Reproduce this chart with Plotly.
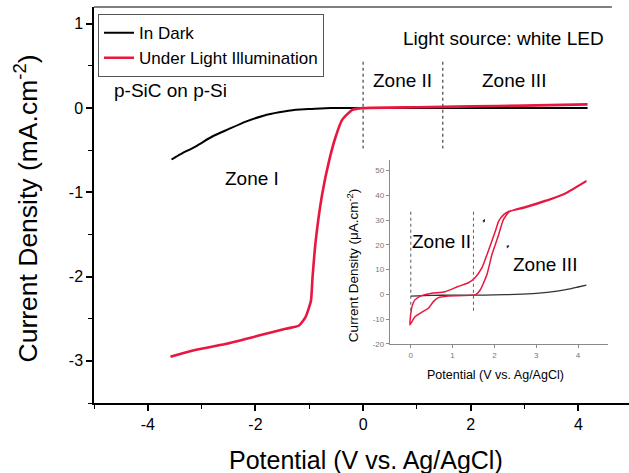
import plotly.graph_objects as go

# ---------------- main panel data ----------------
dark_x = [-3.56, -3.43, -3.10, -2.81, -2.50, -2.18, -1.85, -1.56, -1.25, -0.95, -0.60, -0.30, 0.00, 1.00, 2.00, 3.00, 4.17]
dark_y = [-0.61, -0.56, -0.45, -0.34, -0.25, -0.16, -0.09, -0.05, -0.02, -0.01, 0.00, 0.00, 0.00, 0.00, 0.00, 0.00, 0.00]

light_x = [-3.58, -3.18, -2.56, -1.94, -1.44, -1.19, -1.07, -0.97, -0.94, -0.88, -0.76, -0.63, -0.51, -0.39, -0.20, 0.00, 1.00, 2.00, 3.00, 4.17]
light_y = [-2.95, -2.88, -2.80, -2.70, -2.62, -2.58, -2.48, -2.29, -2.01, -1.57, -1.02, -0.62, -0.34, -0.14, -0.02, 0.00, 0.01, 0.02, 0.03, 0.044]

main_xticks = [-4, -2, 0, 2, 4]
main_xticktext = ["-4", "-2", "0", "2", "4"]
main_yticks = [-3, -2, -1, 0, 1]
main_yticktext = ["-3", "-2", "-1", "0", "1"]
zone_bounds = [0.0, 1.48]

# ---------------- inset data ----------------
in_dark_x = [0.0, 0.5, 1.0, 1.5, 2.0, 2.5, 3.0, 3.5, 3.8, 4.0, 4.2]
in_dark_y = [-0.7, -0.4, -0.3, -0.3, -0.2, 0.0, 0.4, 1.3, 2.2, 3.0, 3.8]

in_light_x = [4.20, 3.73, 3.33, 2.69, 2.33, 2.21, 2.10, 2.02, 1.85, 1.70, 1.53, 1.37, 1.13, 0.82, 0.50, 0.26, 0.10, 0.02, -0.02,
              0.10, 0.26, 0.42, 0.54, 0.66, 0.90, 1.54, 1.66, 1.82, 1.94, 2.10, 2.21, 2.35, 2.69, 3.33, 3.73, 4.20]
in_light_y = [45.6, 40.9, 38.2, 34.8, 33.4, 32.0, 29.5, 25.4, 17.3, 10.7, 6.6, 4.6, 3.2, 1.1, 0.5, -0.5, -2.2, -5.6, -12.3,
              -9.0, -7.2, -5.6, -2.9, -1.3, -0.6, -0.2, 1.8, 7.9, 16.0, 24.0, 30.0, 33.3, 35.2, 38.5, 41.2, 45.9]

inset_xticks = [0, 1, 2, 3, 4]
inset_yticks = [-20, -10, 0, 10, 20, 30, 40, 50]
inset_yticktext = ["-20", "-10", "0", "10", "20", "30", "40", "50"]
inset_zone_bounds = [0.0, 1.5]

FONT = "Liberation Sans, Arial, sans-serif"
RED = "#e8173f"

fig = go.Figure()
fig.add_trace(go.Scatter(x=dark_x, y=dark_y, mode="lines", name="In Dark",
                         line=dict(color="black", width=2, shape="spline", smoothing=0.6)))
fig.add_trace(go.Scatter(x=light_x, y=light_y, mode="lines", name="Under Light Illumination",
                         line=dict(color=RED, width=2.6, shape="spline", smoothing=0.5)))

fig.add_trace(go.Scatter(x=in_dark_x, y=in_dark_y, mode="lines", showlegend=False,
                         xaxis="x2", yaxis="y2",
                         line=dict(color="#333333", width=1.3, shape="spline", smoothing=0.6)))
fig.add_trace(go.Scatter(x=in_light_x, y=in_light_y, mode="lines", showlegend=False,
                         xaxis="x2", yaxis="y2",
                         line=dict(color=RED, width=1.5, shape="spline", smoothing=0.5)))

# zone boundary dotted lines (main)
for xb in zone_bounds:
    fig.add_trace(go.Scatter(x=[xb, xb], y=[0.55, -0.48], mode="lines", showlegend=False,
                             line=dict(color="#555555", width=1.3, dash="dot")))
# zone boundary dotted lines (inset)
for xb in inset_zone_bounds:
    fig.add_trace(go.Scatter(x=[xb, xb], y=[33.4, -7.5], mode="lines", showlegend=False,
                             xaxis="x2", yaxis="y2",
                             line=dict(color="#666666", width=1.1, dash="dot")))

axis_common = dict(showgrid=False, zeroline=False, showline=True, linecolor="black", linewidth=1.5,
                   ticks="outside", ticklen=6, tickwidth=1.5, tickcolor="black",
                   tickfont=dict(family=FONT, size=16, color="black"))

fig.update_layout(
    width=629, height=473,
    margin=dict(l=94, r=0, t=7, b=70),
    paper_bgcolor="white", plot_bgcolor="white",
    font=dict(family=FONT, color="black"),
    xaxis=dict(range=[-5, 4.94], tickvals=main_xticks, ticktext=main_xticktext, domain=[0, 1],
               minor=dict(dtick=1, ticklen=4, tickwidth=1.3, tickcolor="black", ticks="outside"),
               **axis_common),
    yaxis=dict(range=[-3.5, 1.2], tickvals=main_yticks, ticktext=main_yticktext,
               minor=dict(dtick=0.5, ticklen=4, tickwidth=1.3, tickcolor="black", ticks="outside"),
               **axis_common),
    xaxis2=dict(domain=[0.553, 0.961], anchor="y2", range=[-0.5, 4.72], tickvals=inset_xticks,
                showgrid=False, zeroline=False, showline=True, linecolor="#8a8a8a", linewidth=1,
                ticks="outside", ticklen=3, tickcolor="#8a8a8a",
                tickfont=dict(family=FONT, size=8, color="#777777")),
    yaxis2=dict(domain=[0.149, 0.614], anchor="x2", range=[-20, 54.3], tickvals=inset_yticks,
                ticktext=inset_yticktext,
                showgrid=False, zeroline=False, showline=True, linecolor="#8a8a8a", linewidth=1,
                ticks="outside", ticklen=3, tickcolor="#8a8a8a",
                tickfont=dict(family=FONT, size=8, color="#777777")),
    legend=dict(x=0.0075, y=0.982, xanchor="left", yanchor="top",
                bordercolor="#555555", borderwidth=1, bgcolor="white",
                font=dict(family=FONT, size=17, color="black"), tracegroupgap=0),
)

# top frame line
fig.add_shape(type="line", xref="paper", yref="paper", x0=0, x1=0.968, y0=1, y1=1,
              line=dict(color="#555555", width=1.3))

ann = []
def txt(x, y, s, size=19, xref="x", yref="y", **kw):
    ann.append(dict(x=x, y=y, xref=xref, yref=yref, text=s, showarrow=False,
                    xanchor="center", yanchor="middle",
                    font=dict(family=FONT, size=size, color="black"), **kw))

txt(2.6, 0.83, "Light source: white LED")
txt(0.73, 0.33, "Zone II")
txt(2.81, 0.33, "Zone III")
txt(-3.57, 0.21, "p-SiC on p-Si")
txt(-2.06, -0.83, "Zone I")
# inset texts
txt(0.74, 21.3, "Zone II", xref="x2", yref="y2")
txt(3.21, 11.9, "Zone III", xref="x2", yref="y2")

# axis titles
txt(0.508, -0.143, "Potential (V vs. Ag/AgCl)", size=25, xref="paper", yref="paper")
txt(-0.128, 0.49, "Current Density (mA.cm<sup>-2</sup>)", size=26.5, xref="paper", yref="paper", textangle=-90)
# inset titles
txt(0.75, 0.071, "Potential (V vs. Ag/AgCl)", size=12.5, xref="paper", yref="paper")
txt(0.484, 0.348, "Current Density (\u03bcA.cm<sup>-2</sup>)", size=13.5, xref="paper", yref="paper", textangle=-90)

# small scan-direction arrows in the inset
ann.append(dict(x=1.77, y=30.5, xref="x2", yref="y2", ax=-2, ay=5, text="", showarrow=True,
                arrowhead=2, arrowsize=0.6, arrowwidth=1, arrowcolor="#333333"))
ann.append(dict(x=2.30, y=18.5, xref="x2", yref="y2", ax=2, ay=-5, text="", showarrow=True,
                arrowhead=2, arrowsize=0.6, arrowwidth=1, arrowcolor="#333333"))

fig.update_layout(annotations=ann)
fig.write_html("out.html")
